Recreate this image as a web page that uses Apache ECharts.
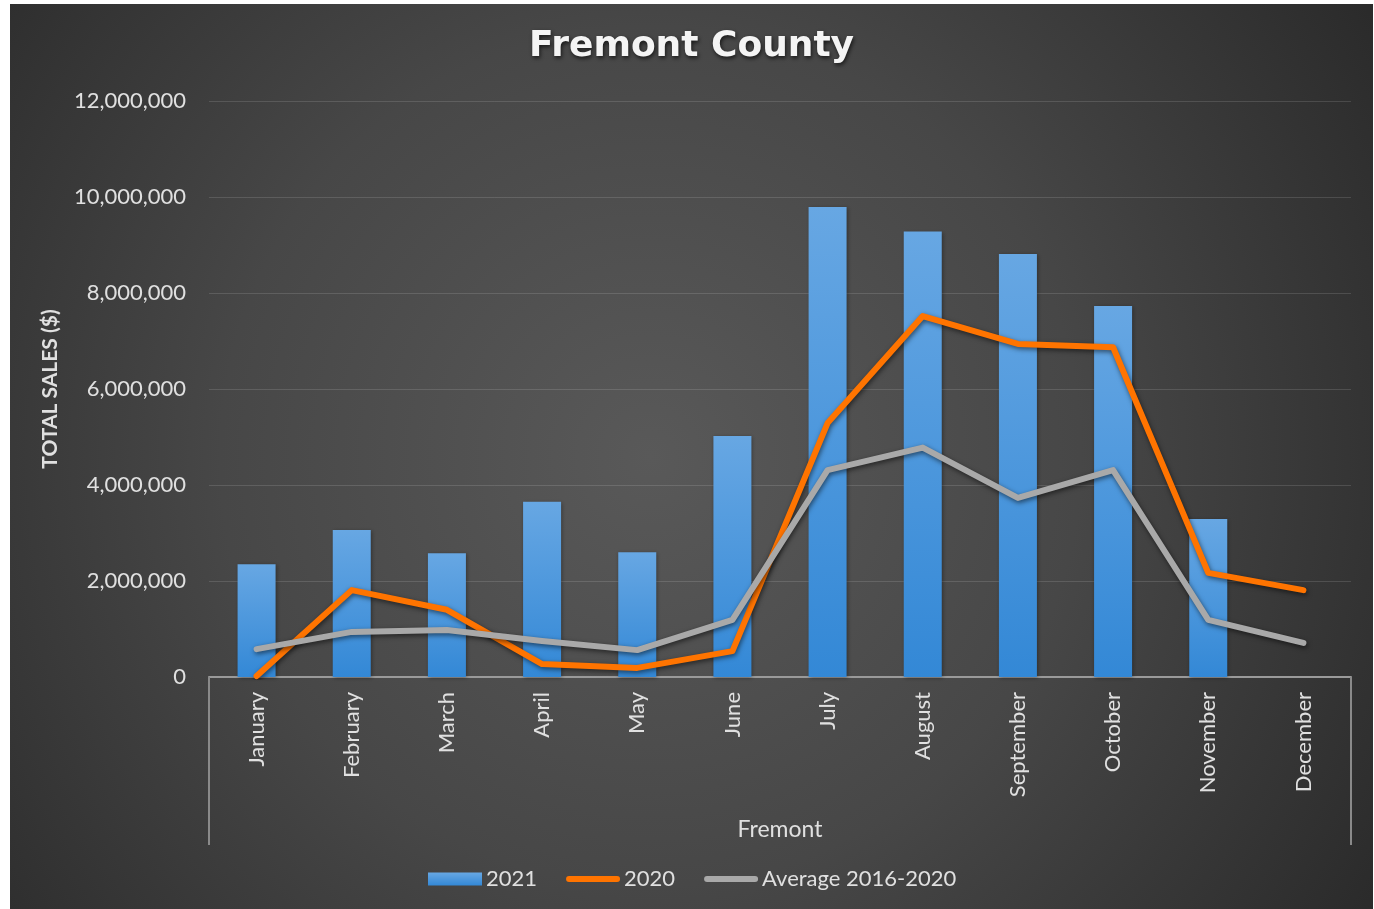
<!DOCTYPE html>
<html>
<head>
<meta charset="utf-8">
<script src="https://cdn.jsdelivr.net/npm/echarts@6/dist/echarts.min.js"></script>
<style>
html,body{margin:0;padding:0;background:#ffffff;width:1374px;height:909px;overflow:hidden;}
#chart{position:absolute;left:10px;top:4px;width:1363px;height:905px;}
</style>
</head>
<body>
<div id="chart"></div>
<script>
const months = ['January','February','March','April','May','June','July','August','September','October','November','December'];
const sales2021 = [2350000, 3060000, 2580000, 3650000, 2600000, 5020000, 9790000, 9280000, 8810000, 7730000, 3290000, null];
const sales2020 = [20000, 1810000, 1400000, 270000, 190000, 540000, 5290000, 7520000, 6940000, 6870000, 2170000, 1810000];
const avg2016_2020 = [580000, 940000, 980000, 750000, 560000, 1190000, 4310000, 4780000, 3730000, 4310000, 1190000, 710000];
const yTicks = [0, 2000000, 4000000, 6000000, 8000000, 10000000, 12000000];

const chart = echarts.init(document.getElementById('chart'));
const labelColor = '#e0e0e0';
const lineShadow = {shadowColor:'rgba(0,0,0,0.55)', shadowBlur:5, shadowOffsetX:1, shadowOffsetY:2};
const lineIcon = 'path://M3,0L51,0A3,3,0,0,1,51,6L3,6A3,3,0,0,1,3,0Z';

chart.setOption({
  animation:false,
  graphic:[{
    type:'rect', z:-100, silent:true,
    shape:{x:0,y:0,width:1363,height:905},
    style:{fill:new echarts.graphic.RadialGradient(0.47,0.5,0.95,[
      {offset:0,color:'#595959'},{offset:0.5,color:'#474747'},{offset:1,color:'#2a2a2a'}
    ])}
  }],
  title:{
    text:'Fremont County', left:'center', top:20,
    textStyle:{fontFamily:'DejaVu Sans', fontWeight:'bold', fontSize:36, color:'#f4f4f4',
      textShadowColor:'rgba(0,0,0,0.7)', textShadowBlur:4, textShadowOffsetX:1, textShadowOffsetY:2}
  },
  grid:{left:199, right:22, top:97, bottom:232},
  legend:{
    bottom:14, left:413, itemWidth:54, itemHeight:13, itemGap:29,
    textStyle:{fontFamily:'Lato', fontSize:22, color:labelColor, padding:[0,0,0,-1]},
    data:[{name:'2021', icon:'rect'},{name:'2020', icon:lineIcon},{name:'Average 2016-2020', icon:lineIcon}]
  },
  xAxis:[{
    type:'category', data:months, boundaryGap:true,
    axisLine:{show:true, lineStyle:{color:'#9a9a9a', width:2}},
    axisTick:{show:false},
    axisLabel:{rotate:90, margin:15, color:labelColor, fontFamily:'Lato', fontSize:22},
    name:'Fremont', nameLocation:'middle', nameGap:141,
    nameTextStyle:{color:labelColor, fontFamily:'Lato', fontSize:23}
  },{
    type:'category', data:['Fremont'], position:'bottom', offset:168, boundaryGap:true,
    axisLine:{show:false},
    axisTick:{show:true, inside:true, length:168, lineStyle:{color:'#8a8a8a', width:2}},
    axisLabel:{show:false}
  }],
  yAxis:{
    type:'value', min:0, max:12000000, interval:2000000,
    axisLine:{show:false}, axisTick:{show:false},
    splitLine:{lineStyle:{color:'rgba(255,255,255,0.13)', width:1}},
    axisLabel:{margin:23, color:labelColor, fontFamily:'Lato', fontSize:22,
      formatter:v => yTicks.includes(v) ? v.toLocaleString('en-US') : ''},
    name:'TOTAL SALES ($)', nameLocation:'middle', nameGap:148,
    nameTextStyle:{color:labelColor, fontFamily:'Lato', fontWeight:'bold', fontSize:21}
  },
  series:[{
    name:'2021', type:'bar', data:sales2021, barWidth:38, xAxisIndex:0,
    itemStyle:{
      color:new echarts.graphic.LinearGradient(0,0,0,1,[
        {offset:0,color:'#67a7e3'},{offset:1,color:'#3388d6'}
      ]),
      shadowColor:'rgba(0,0,0,0.35)', shadowBlur:4, shadowOffsetX:1, shadowOffsetY:1
    }
  },{
    name:'2020', type:'line', data:sales2020, symbol:'none', xAxisIndex:0,
    itemStyle:{color:'#ff7400'},
    lineStyle:Object.assign({color:'#ff7400', width:6, cap:'round', join:'round'}, lineShadow)
  },{
    name:'Average 2016-2020', type:'line', data:avg2016_2020, symbol:'none', xAxisIndex:0,
    itemStyle:{color:'#a9a9a9'},
    lineStyle:Object.assign({color:'#a9a9a9', width:6, cap:'round', join:'round'}, lineShadow)
  }]
});
</script>
</body>
</html>
